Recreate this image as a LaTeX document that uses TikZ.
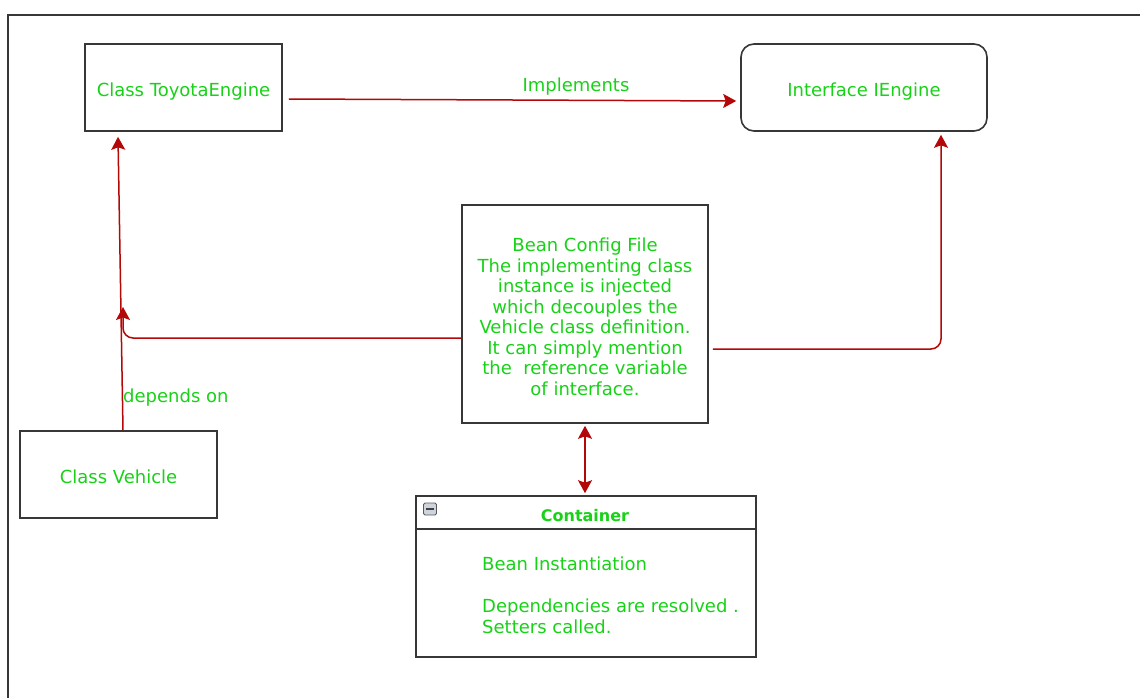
\documentclass[tikz,border=0pt]{standalone}
\usepackage{fontspec}
\setmainfont{DejaVu Sans}
\usetikzlibrary{arrows.meta}
\definecolor{txtgreen}{RGB}{24,210,24}
\definecolor{arrred}{RGB}{180,8,8}
\definecolor{boxgrey}{RGB}{55,55,55}
\definecolor{icongrey}{RGB}{205,212,222}
\begin{document}
\begin{tikzpicture}[x=1pt,y=-1pt,
  boxnode/.style={draw=boxgrey, line width=1.6pt, inner sep=0pt},
  lbl/.style={text=txtgreen, font=\fontsize{18}{20.5}\selectfont, inner sep=0pt, align=center},
  tipred/.tip={Stealth[length=13pt,width=14pt,inset=2.5pt]},
  conn/.style={draw=arrred, line width=1.5pt, -tipred},
  dconn/.style={draw=arrred, line width=1.5pt, tipred-tipred}]
\useasboundingbox (0,0) rectangle (1140,698);
\fill[white] (0,0) rectangle (1140,698);
% frame
\draw[draw=boxgrey, line width=1.5pt] (8,698) -- (8,15) -- (1140,15);

% boxes
\node[boxnode, minimum width=197pt, minimum height=87pt] (toyota) at (183.5,87.5) {};
\node[boxnode, rounded corners=13pt, minimum width=246pt, minimum height=87pt] (iengine) at (864,87.5) {};
\node[boxnode, minimum width=246pt, minimum height=218pt] (bean) at (585,314) {};
\node[boxnode, minimum width=197pt, minimum height=87pt] (vehicle) at (118.5,474.5) {};
\node[boxnode, minimum width=340pt, minimum height=161pt] (container) at (586,576.5) {};

% box texts
\node[lbl] (toyotatxt) at ([yshift=-4pt]toyota.center) {Class ToyotaEngine};
\node[lbl] (ienginetxt) at ([yshift=-4.5pt]iengine.center) {Interface IEngine};
\node[lbl] (beantxt) at ([yshift=-3pt]bean.center) {Bean Config File\\The implementing class\\instance is injected\\which decouples the\\Vehicle class definition.\\It can simply mention\\the\ \ reference variable\\of interface.};
\node[lbl] (vehicletxt) at ([yshift=-2pt]vehicle.center) {Class Vehicle};

% container details
\draw[draw=boxgrey, line width=1.6pt] ([yshift=-34pt]container.north west) -- ([yshift=-34pt]container.north east);
\node[text=txtgreen, font=\fontsize{16}{18}\selectfont\bfseries, inner sep=0pt] (ctitle) at (585,516) {Container};
\node[draw=gray!70!black, fill=icongrey, rounded corners=1.5pt, line width=0.8pt, minimum width=13pt, minimum height=12pt, inner sep=0pt] (icon) at (430,509) {};
\draw[line width=2pt, draw=black!75] ([xshift=3pt]icon.west) -- ([xshift=-3pt]icon.east);
\node[lbl, anchor=north west, align=left, font=\fontsize{18}{21}\selectfont] (cbody) at (482,557) {Bean Instantiation\\[21pt]Dependencies are resolved .\\Setters called.};

% labels
\node[lbl] (impl) at (576,87) {Implements};
\node[lbl, anchor=west] (dep) at (123,398) {depends on};

% connectors
\draw[conn] ([xshift=6pt,yshift=-11.5pt]toyota.east) -- ([xshift=-4pt,yshift=-13.5pt]iengine.west);
\draw[conn] ([xshift=4.5pt]vehicle.north) -- ([xshift=-65.5pt,yshift=-5pt]toyota.south);
\coordinate (lt) at (123,307);
\draw[conn, rounded corners=10pt] ([yshift=-24pt]bean.west) -| (lt);
\draw[conn, rounded corners=10pt] ([xshift=4pt,yshift=-35pt]bean.east) -| ([xshift=77pt,yshift=-3pt]iengine.south);
\draw[dconn] ([yshift=-2pt]bean.south) -- ([xshift=-1pt,yshift=2pt]container.north);
\end{tikzpicture}
\end{document}
